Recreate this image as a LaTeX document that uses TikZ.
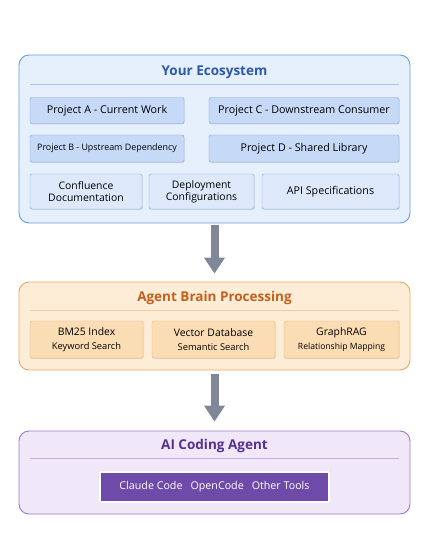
\documentclass[tikz,border=0pt]{standalone}
\usepackage{fontspec}
\setmainfont{Open Sans}
\usetikzlibrary{arrows.meta,shadows}
\definecolor{ecoFill}{HTML}{E6EFFC}
\definecolor{ecoLine}{HTML}{6A9BE0}
\definecolor{ecoBox}{HTML}{C6DAF8}
\definecolor{ecoDoc}{HTML}{DDE9FB}
\definecolor{ecoEdge}{HTML}{7EA4DA}
\definecolor{ecoText}{HTML}{2C5AA8}
\definecolor{brainFill}{HTML}{FDEDD6}
\definecolor{brainLine}{HTML}{E9A765}
\definecolor{brainBox}{HTML}{FBDDB5}
\definecolor{brainEdge}{HTML}{E6B582}
\definecolor{brainText}{HTML}{C45F1C}
\definecolor{agentFill}{HTML}{F0E7F8}
\definecolor{agentLine}{HTML}{9B7BC8}
\definecolor{agentBox}{HTML}{6E4BA8}
\definecolor{agentText}{HTML}{58308F}
\definecolor{flowGray}{HTML}{7F8799}
\begin{document}
\begin{tikzpicture}[x=1pt, y=-1pt, font=\fontsize{10.7}{12}\selectfont, line join=round,
	panel/.style={draw=#1Line, fill=#1Fill, line width=.9pt, rounded corners=10pt, inner sep=0pt},
	headline/.style={font=\fontsize{13.5}{15}\selectfont\bfseries, text=#1Text},
	rule/.style={draw=#1Line!60, line width=.6pt},
	ecobox/.style={draw=ecoEdge, fill=ecoBox, rounded corners=2pt, align=center, inner sep=1pt,
		drop shadow={shadow xshift=.6pt, shadow yshift=-.8pt, opacity=.25}},
	docbox/.style={ecobox, fill=ecoDoc, font=\fontsize{10.4}{12}\selectfont},
	brainbox/.style={draw=brainEdge, fill=brainBox, rounded corners=2pt, align=center, inner sep=1pt,
		font=\fontsize{10.4}{14}\selectfont,
		drop shadow={shadow xshift=.6pt, shadow yshift=-.8pt, opacity=.25}},
	flow/.style={draw=flowGray, line width=8pt, -{Triangle[width=20pt, length=16pt]}}]
	\useasboundingbox (0,0) rectangle (430,547);
	% containers
	\node[panel=eco, minimum width=391pt, minimum height=168pt] (eco) at (214.5,139) {};
	\node[panel=brain, minimum width=391pt, minimum height=88pt] (brain) at (214.5,326) {};
	\node[panel=agent, minimum width=391pt, minimum height=83pt] (agent) at (214.5,472.5) {};
	% titles and rules
	\node[headline=eco] (ecoTitle) at (214.5,72) {Your Ecosystem};
	\node[headline=brain] (brainTitle) at (214.5,298) {Agent Brain Processing};
	\node[headline=agent] (agentTitle) at (214.5,446) {AI Coding Agent};
	\draw[rule=eco] (30,84) -- (399,84);
	\draw[rule=brain] (30,310) -- (399,310);
	\draw[rule=agent] (30,458) -- (399,458);
	% ecosystem boxes
	\node[ecobox, minimum width=154pt, minimum height=26pt] (projA) at (107,110.5) {Project A - Current Work};
	\node[ecobox, minimum width=190pt, minimum height=26pt] (projC) at (304,110.5) {Project C - Downstream Consumer};
	\node[ecobox, minimum width=154pt, minimum height=27pt, font=\fontsize{8.9}{10}\selectfont] (projB) at (107,148.5) {Project B - Upstream Dependency};
	\node[ecobox, minimum width=190pt, minimum height=27pt] (projD) at (304,148.5) {Project D - Shared Library};
	\node[docbox, minimum width=112pt, minimum height=35pt] (docs) at (86,191.5) {Confluence\\Documentation};
	\node[docbox, minimum width=105pt, minimum height=35pt] (deploy) at (201.5,191.5) {Deployment\\Configurations};
	\node[docbox, minimum width=137pt, minimum height=35pt, font=\fontsize{10.7}{12}\selectfont] (api) at (330.5,191.5) {API Specifications};
	% brain boxes
	\node[brainbox, minimum width=113pt, minimum height=37pt] (bm25) at (86.5,339.5) {BM25 Index\\{\fontsize{9.3}{14}\selectfont Keyword Search}};
	\node[brainbox, minimum width=123pt, minimum height=37pt] (vector) at (213.5,339.5) {Vector Database\\{\fontsize{9.3}{14}\selectfont Semantic Search}};
	\node[brainbox, minimum width=115pt, minimum height=37pt] (graph) at (341.5,339.5) {GraphRAG\\{\fontsize{8.6}{14}\selectfont Relationship Mapping}};
	% agent tools
	\node[draw=agentLine!80!gray, double=white, double distance=1.2pt, fill=agentBox, text=white,
		minimum width=229pt, minimum height=30pt, inner sep=0pt] (tools) at (214.5,487)
		{Claude Code\hspace{8pt}OpenCode\hspace{8pt}Other Tools};
	% flow arrows
	\draw[flow, shorten <=2pt, shorten >=8pt] (eco.south) -- (brain.north);
	\draw[flow, shorten <=4pt, shorten >=9pt] (brain.south) -- (agent.north);
\end{tikzpicture}
\end{document}
